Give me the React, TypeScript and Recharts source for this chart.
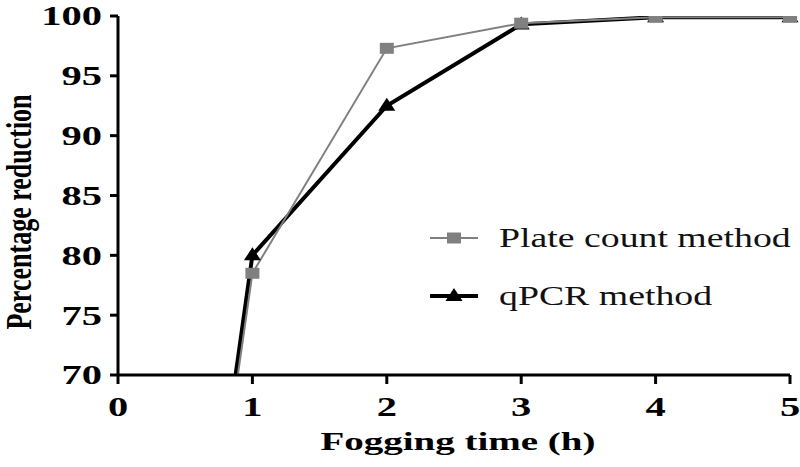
import { LineChart, Line, XAxis, YAxis, Legend } from 'recharts';

const hours = [0, 1, 2, 3, 4, 5];
const plateCount = [0, 78.5, 97.3, 99.4, 99.9, 99.9];
const qpcr = [0, 80, 92.5, 99.3, 99.9, 99.9];
const xTicks = [0, 1, 2, 3, 4, 5];
const yTicks = [70, 75, 80, 85, 90, 95, 100];

const data = hours.map((h, i) => ({ h, plate: plateCount[i], qpcr: qpcr[i] }));

const FONT = '"Liberation Serif", "Times New Roman", serif';
const SX = 1.5;

const YTick = (props: any) => {
  const { x, y, payload } = props;
  return (
    <g transform={`translate(${x},${y}) scale(${SX},1)`}>
      <text x={0} y={0} dy="0.35em" textAnchor="end" fontFamily={FONT} fontWeight="bold" fontSize={27} fill="#000">
        {payload.value}
      </text>
    </g>
  );
};

const XTick = (props: any) => {
  const { x, y, payload } = props;
  return (
    <g transform={`translate(${x},${y}) scale(${SX},1)`}>
      <text x={0} y={0} dy="0.71em" textAnchor="middle" fontFamily={FONT} fontWeight="bold" fontSize={27} fill="#000">
        {payload.value}
      </text>
    </g>
  );
};

const XTitle = (props: any) => {
  const vb = props.viewBox;
  const cx = vb.x + vb.width / 2 + 4;
  return (
    <g transform={`translate(${cx},450) scale(${SX},1)`}>
      <text textAnchor="middle" fontFamily={FONT} fontWeight="bold" fontSize={26} fill="#000">
        Fogging time (h)
      </text>
    </g>
  );
};

const YTitle = () => (
  <g transform={`translate(19,212) scale(1.4,1) rotate(-90)`}>
    <text textAnchor="middle" dominantBaseline="central" fontFamily={FONT} fontWeight="bold" fontSize={26} fill="#000">
      Percentage reduction
    </text>
  </g>
);

const SquareDot = (props: any) => {
  const { cx, cy } = props;
  if (cx == null || cy == null) return null;
  return <rect x={cx - 7} y={cy - 5.5} width={14} height={11} fill="#808080" />;
};

const TriangleDot = (props: any) => {
  const { cx, cy } = props;
  if (cx == null || cy == null) return null;
  return <polygon points={`${cx},${cy - 8} ${cx + 8.5},${cy + 5} ${cx - 8.5},${cy + 5}`} fill="#000" />;
};

const LegendBox = () => (
  <svg width={375} height={110}>
    <line x1={5} x2={53} y1={23} y2={23} stroke="#808080" strokeWidth={2} />
    <rect x={22} y={17.5} width={14} height={11} fill="#808080" />
    <g transform={`translate(74,23) scale(1.4,1)`}>
      <text dy="0.35em" fontFamily={FONT} fontSize={27} fill="#111">Plate count method</text>
    </g>
    <line x1={5} x2={53} y1={81} y2={81} stroke="#000" strokeWidth={4} />
    <polygon points="29,73 37.5,86 20.5,86" fill="#000" />
    <g transform={`translate(74,81) scale(1.4,1)`}>
      <text dy="0.35em" fontFamily={FONT} fontSize={27} fill="#111">qPCR method</text>
    </g>
  </svg>
);

export default function App() {
  return (
    <div style={{ position: 'absolute', left: 0, top: 0, width: 800, height: 467, background: '#fff' }}>
      <LineChart width={800} height={467} data={data} margin={{ top: 16, right: 10, left: 0, bottom: 0 }}>
        <XAxis
          dataKey="h"
          type="number"
          domain={[0, 5]}
          ticks={xTicks}
          interval={0}
          height={92}
          tickSize={9}
          tickMargin={13}
          tick={<XTick />}
          axisLine={{ stroke: '#000', strokeWidth: 3 }}
          tickLine={{ stroke: '#000', strokeWidth: 3 }}
          label={<XTitle />}
        />
        <YAxis
          type="number"
          domain={[70, 100]}
          allowDataOverflow
          ticks={yTicks}
          interval={0}
          width={118}
          tickSize={8}
          tickMargin={8}
          tick={<YTick />}
          axisLine={{ stroke: '#000', strokeWidth: 3 }}
          tickLine={{ stroke: '#000', strokeWidth: 3 }}
          label={<YTitle />}
        />
        <Legend
          layout="vertical"
          align="center"
          verticalAlign="middle"
          content={<LegendBox />}
          wrapperStyle={{ left: 425, top: 215, width: 375, height: 110 }}
        />
        <Line
          dataKey="qpcr"
          name="qPCR method"
          stroke="#000"
          strokeWidth={4}
          dot={<TriangleDot />}
          activeDot={false}
          isAnimationActive={false}
        />
        <Line
          dataKey="plate"
          name="Plate count method"
          stroke="#808080"
          strokeWidth={2}
          dot={<SquareDot />}
          activeDot={false}
          isAnimationActive={false}
        />
      </LineChart>
    </div>
  );
}
